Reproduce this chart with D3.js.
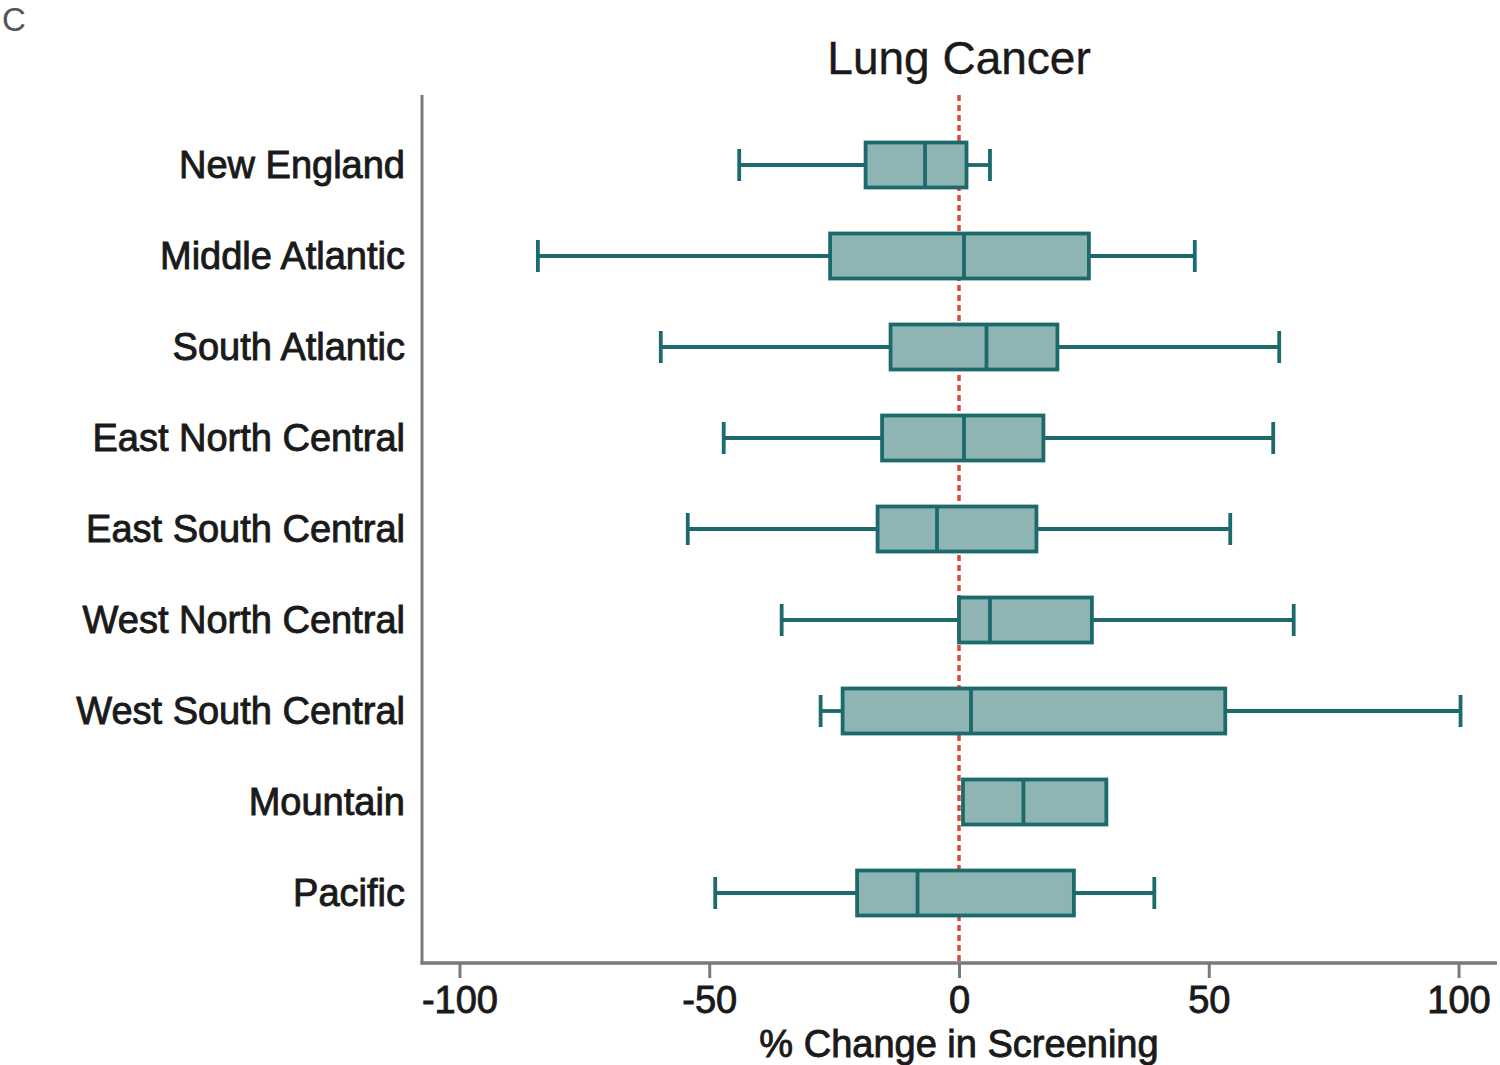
<!DOCTYPE html>
<html>
<head>
<meta charset="utf-8">
<script src="https://cdn.jsdelivr.net/npm/d3@7"></script>
<style>
  html, body { margin: 0; padding: 0; background: #fff; }
  svg { display: block; font-family: "Liberation Sans", Arial, Helvetica, sans-serif; }
</style>
</head>
<body>
<svg id="chart" width="1500" height="1065"></svg>
<script>
const categories = ["New England", "Middle Atlantic", "South Atlantic", "East North Central",
  "East South Central", "West North Central", "West South Central", "Mountain", "Pacific"];
const whiskerLow  = [-44.0, -84.3, -59.7, -47.1, -54.3, -35.5, -27.7,  0.8, -48.8];
const q1          = [-18.7, -25.8, -13.7, -15.4, -16.3,   0.0, -23.3,  0.8, -20.4];
const medians     = [ -6.8,   1.0,   5.5,   1.0,  -4.4,   6.2,   2.4, 12.9,  -8.3];
const q3          = [  1.5,  26.0,  19.7,  16.9,  15.5,  26.6,  53.3, 29.5,  23.0];
const whiskerHigh = [  6.2,  47.2,  64.1,  62.9,  54.3,  67.0, 100.4, 29.5,  39.1];
const xTicks = [-100, -50, 0, 50, 100];
const title = "Lung Cancer";
const xTitle = "% Change in Screening";
const panelLabel = "C";

const rows = categories.map((c, i) => ({
  cat: c, lo: whiskerLow[i], q1: q1[i], med: medians[i], q3: q3[i], hi: whiskerHigh[i]
}));

const svg = d3.select("#chart");
const axisLeft = 422, axisRight = 1497, axisTop = 95, axisBottom = 963;

const x = d3.scaleLinear().domain([-107.5, 107.7]).range([axisLeft, axisRight]);
const y = d3.scalePoint().domain(categories).range([165, 893]);

const boxH = 45, capH = 32;
const stroke = "#1c6a6b", fill = "#8fb4b4", axisCol = "#7a7a7a";
const sw = 3.8;

// reference line at zero
svg.append("line")
  .attr("x1", x(0)).attr("x2", x(0))
  .attr("y1", axisTop).attr("y2", axisBottom)
  .attr("stroke", "#dd4a3a").attr("stroke-width", 3.5)
  .attr("stroke-dasharray", "6,4");

// boxes
const g = svg.append("g").selectAll("g").data(rows).join("g");

g.filter(d => d.lo < d.q1).append("line")
  .attr("x1", d => x(d.lo)).attr("x2", d => x(d.q1))
  .attr("y1", d => y(d.cat)).attr("y2", d => y(d.cat))
  .attr("stroke", stroke).attr("stroke-width", sw);
g.filter(d => d.hi > d.q3).append("line")
  .attr("x1", d => x(d.q3)).attr("x2", d => x(d.hi))
  .attr("y1", d => y(d.cat)).attr("y2", d => y(d.cat))
  .attr("stroke", stroke).attr("stroke-width", sw);
g.filter(d => d.lo < d.q1).append("line")
  .attr("x1", d => x(d.lo)).attr("x2", d => x(d.lo))
  .attr("y1", d => y(d.cat) - capH / 2).attr("y2", d => y(d.cat) + capH / 2)
  .attr("stroke", stroke).attr("stroke-width", sw);
g.filter(d => d.hi > d.q3).append("line")
  .attr("x1", d => x(d.hi)).attr("x2", d => x(d.hi))
  .attr("y1", d => y(d.cat) - capH / 2).attr("y2", d => y(d.cat) + capH / 2)
  .attr("stroke", stroke).attr("stroke-width", sw);

g.append("rect")
  .attr("x", d => x(d.q1)).attr("width", d => x(d.q3) - x(d.q1))
  .attr("y", d => y(d.cat) - boxH / 2).attr("height", boxH)
  .attr("fill", fill).attr("stroke", stroke).attr("stroke-width", sw);
g.append("line")
  .attr("x1", d => x(d.med)).attr("x2", d => x(d.med))
  .attr("y1", d => y(d.cat) - boxH / 2).attr("y2", d => y(d.cat) + boxH / 2)
  .attr("stroke", stroke).attr("stroke-width", sw);

// y axis (line + category labels)
svg.append("line")
  .attr("x1", axisLeft).attr("x2", axisLeft)
  .attr("y1", axisTop).attr("y2", axisBottom + 1.5)
  .attr("stroke", axisCol).attr("stroke-width", 3);
svg.append("g").selectAll("text").data(categories).join("text")
  .attr("x", 405).attr("y", d => y(d))
  .attr("dy", "0.35em")
  .attr("text-anchor", "end")
  .attr("font-size", 38)
  .attr("fill", "#1a1a1a")
  .attr("stroke", "#1a1a1a").attr("stroke-width", 0.9)
  .text(d => d);

// x axis
const xAxis = svg.append("g")
  .attr("transform", `translate(0,${axisBottom})`)
  .call(d3.axisBottom(x).tickValues(xTicks).tickSize(15).tickPadding(8).tickFormat(d3.format("d")));
xAxis.select(".domain").remove();
xAxis.selectAll(".tick line").attr("stroke", axisCol).attr("stroke-width", 3);
xAxis.selectAll(".tick text").attr("font-size", 38).attr("fill", "#1a1a1a")
  .attr("stroke", "#1a1a1a").attr("stroke-width", 0.9)
  .attr("font-family", "'Liberation Sans', Arial, sans-serif")
  .text(d => d < 0 ? "-" + Math.abs(d) : d);
svg.append("line")
  .attr("x1", axisLeft - 1.5).attr("x2", axisRight)
  .attr("y1", axisBottom).attr("y2", axisBottom)
  .attr("stroke", axisCol).attr("stroke-width", 3.5);

// titles
svg.append("text")
  .attr("x", x(0)).attr("y", 74)
  .attr("text-anchor", "middle")
  .attr("font-size", 46)
  .attr("fill", "#1a1a1a")
  .attr("stroke", "#1a1a1a").attr("stroke-width", 0.4)
  .text(title);
svg.append("text")
  .attr("x", x(0)).attr("y", 1057)
  .attr("text-anchor", "middle")
  .attr("font-size", 38)
  .attr("fill", "#1a1a1a")
  .attr("stroke", "#1a1a1a").attr("stroke-width", 0.9)
  .text(xTitle);
svg.append("text")
  .attr("x", 2).attr("y", 31)
  .attr("font-size", 33)
  .attr("fill", "#555")
  .text(panelLabel);
</script>
</body>
</html>
